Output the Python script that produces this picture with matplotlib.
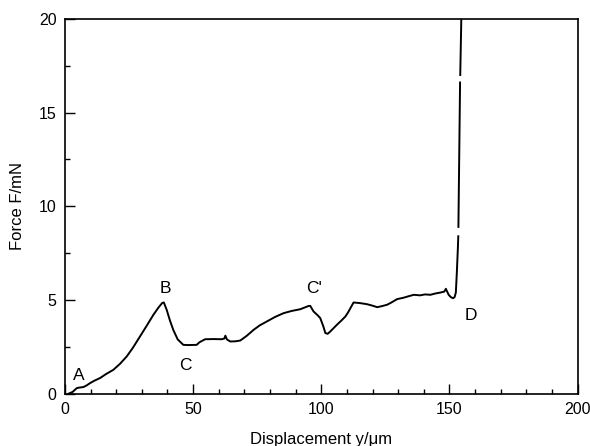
import numpy as np
import matplotlib.pyplot as plt

plt.rcParams['font.family'] = ['Liberation Sans', 'DejaVu Sans']

# force-displacement trace (um, mN); NaN marks the dropouts on the steep rise
disp = [1.3, 3.0, 4.6, 5.5, 7.2, 8.5, 9.8, 11.5, 13.7, 16.0, 18.9, 21.5, 24.1,
        26.5, 29.3, 32.0, 34.5, 36.5, 38.0, 38.6, 39.7, 41.0, 42.3, 44.0,
        46.2, 48.0, 51.4, 52.5, 54.7, 58.0, 61.2, 62.2, 62.6, 63.2, 64.5,
        66.5, 68.4, 71.0, 73.6, 76.0, 78.8, 82.0, 85.3, 88.5, 91.8, 93.5,
        95.0, 95.7, 96.3, 97.0, 98.5, 99.6, 100.8, 101.6, 102.5, 103.5,
        104.8, 106.1, 107.8, 109.4, 110.5, 111.3, 112.6, 115.0, 117.8, 120.0,
        121.8, 123.8, 125.7, 127.5, 129.6, 132.0, 134.0, 136.1, 138.5, 140.5,
        142.6, 144.5, 146.5, 148.0, 148.6, 149.7, 150.6, 151.4, 152.0, 152.5,
        152.9, 153.3, 153.45, np.nan, 153.5, 154.15, np.nan, 154.22, 154.7]
force = [0.0, 0.1, 0.3, 0.33, 0.36, 0.45, 0.57, 0.7, 0.84, 1.05, 1.28, 1.6, 1.99,
         2.45, 3.06, 3.65, 4.21, 4.6, 4.85, 4.87, 4.48, 3.9, 3.4, 2.9,
         2.61, 2.6, 2.61, 2.75, 2.91, 2.92, 2.91, 2.95, 3.1, 2.9, 2.79,
         2.8, 2.84, 3.1, 3.41, 3.65, 3.86, 4.1, 4.3, 4.42, 4.51, 4.6,
         4.68, 4.69, 4.55, 4.39, 4.2, 4.04, 3.6, 3.24, 3.2, 3.32,
         3.5, 3.68, 3.9, 4.12, 4.35, 4.55, 4.87, 4.84, 4.78, 4.7,
         4.62, 4.68, 4.75, 4.88, 5.05, 5.12, 5.2, 5.28, 5.25, 5.3,
         5.28, 5.35, 5.4, 5.45, 5.6, 5.28, 5.15, 5.1, 5.15, 5.4,
         6.5, 7.8, 8.4, np.nan, 8.9, 16.6, np.nan, 17.0, 20.5]

x_ticks = [0, 50, 100, 150, 200]
y_ticks = [0, 5, 10, 15, 20]

# point labels: text, x, y
point_names = ['A', 'B', 'C', "C'", 'D']
point_x = [5.6, 39.3, 47.0, 97.0, 158.2]
point_y = [1.0, 5.6, 1.5, 5.6, 4.15]

fig = plt.figure(figsize=(5.9, 4.46), dpi=100)
ax = fig.add_axes([0.110, 0.117, 0.869, 0.841])

ax.plot(disp, force, color='black', lw=1.4)

ax.set_xlim(0, 200)
ax.set_ylim(0, 20)
ax.set_xticks(x_ticks)
ax.set_yticks(y_ticks)
ax.set_xticks(np.arange(0, 201, 10), minor=True)
ax.set_yticks(np.arange(0, 20.1, 2.5), minor=True)
ax.tick_params(which='both', direction='in', top=False, right=False,
               labelsize=11.5, width=1.0, pad=6)
ax.tick_params(which='major', length=7)
ax.tick_params(which='minor', length=3.5)
for sp in ax.spines.values():
    sp.set_linewidth(1.2)

for name, px, py in zip(point_names, point_x, point_y):
    ax.text(px, py, name, fontsize=12.5, ha='center', va='center')

ax.set_xlabel('Displacement y/\u03bcm', fontsize=12, labelpad=11)
ax.set_ylabel('Force F/mN', fontsize=12, labelpad=10)

fig.savefig('out.png', dpi=100)
